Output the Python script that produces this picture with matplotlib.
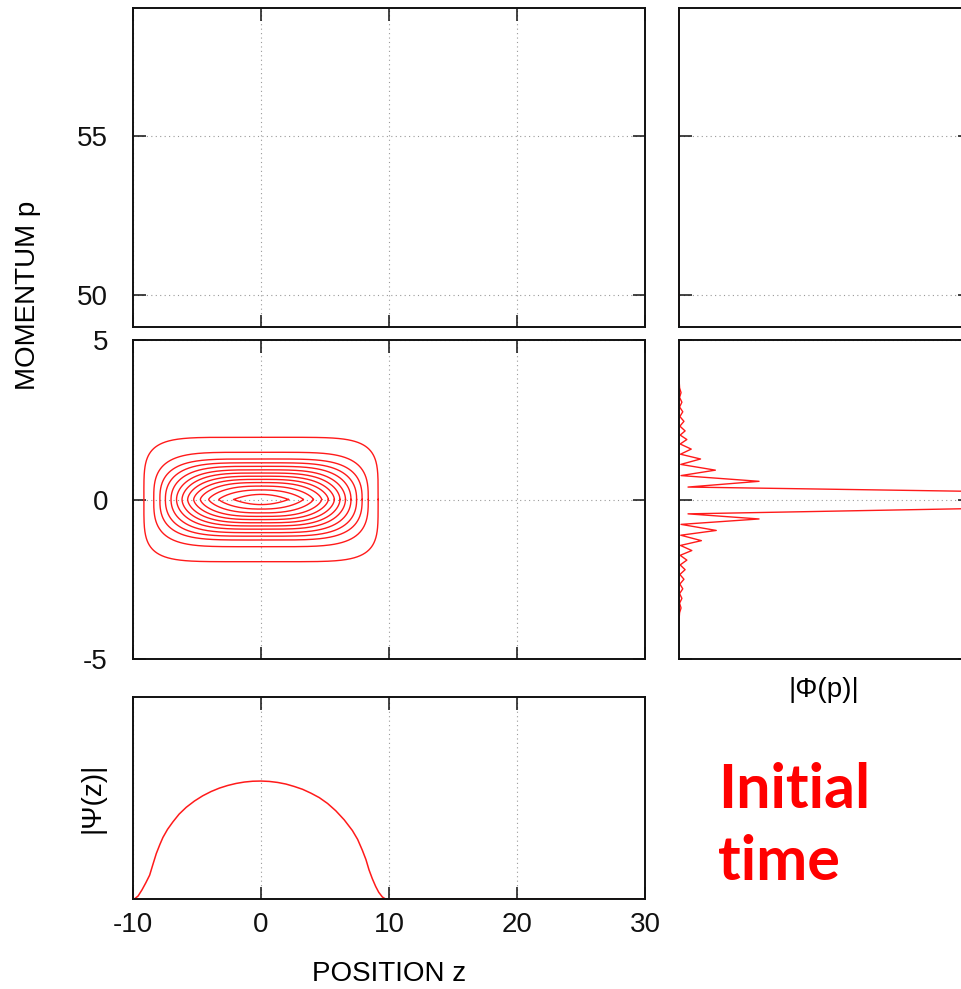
import numpy as np
import matplotlib
matplotlib.use("Agg")
import matplotlib.pyplot as plt

plt.rcParams['font.family'] = ['Liberation Sans', 'DejaVu Sans']
plt.rcParams['axes.unicode_minus'] = False

# |Psi(z)| along the position axis
z_psi = [-10.0, -9.85, -9.6, -9.3, -9.0, -8.7, -8.45, -8.18, -7.9, -7.66,
         -7.3, -6.88, -6.4, -5.84, -5.2, -4.55, -3.9, -3.25, -2.6, -1.95,
         -1.3, -0.65, 0.0, 0.65, 1.3, 1.95, 2.6, 3.25, 3.9, 4.55, 5.2, 5.84,
         6.5, 7.14, 7.55, 7.92, 8.2, 8.44, 8.7, 8.96, 9.2, 9.48, 9.7, 9.85,
         30.0]
psi_abs = [0.0, 0.002, 0.015, 0.045, 0.080, 0.118, 0.170, 0.225, 0.270,
           0.305, 0.345, 0.382, 0.420, 0.454, 0.485, 0.511, 0.532, 0.549,
           0.562, 0.572, 0.579, 0.583, 0.584, 0.582, 0.577, 0.569, 0.557,
           0.543, 0.524, 0.502, 0.473, 0.437, 0.392, 0.339, 0.295, 0.241,
           0.195, 0.144, 0.100, 0.062, 0.033, 0.010, 0.001, 0.0, 0.0]

# |Phi(p)| along the momentum axis (central peak runs past the frame)
p_mom = [3.8, 3.5, 3.35, 3.2, 3.05, 2.9, 2.75, 2.6, 2.45, 2.3, 2.15, 2.02,
         1.88, 1.74, 1.58, 1.42, 1.27, 1.10, 0.92, 0.75, 0.57, 0.39, 0.26,
         0.18, 0.0, -0.18, -0.29, -0.45, -0.61, -0.78, -0.97, -1.12, -1.29,
         -1.44, -1.60, -1.75, -1.90, -2.05, -2.20, -2.35, -2.50, -2.65,
         -2.80, -2.95, -3.10, -3.25, -3.40, -3.55, -3.8]
phi_abs = [0.0, 0.002, 0.007, 0.002, 0.010, 0.002, 0.013, 0.003, 0.017,
           0.003, 0.021, 0.004, 0.027, 0.004, 0.042, 0.005, 0.074, 0.006,
           0.125, 0.007, 0.275, 0.031, 0.973, 1.3, 1.6, 1.3, 0.973, 0.031,
           0.275, 0.007, 0.128, 0.006, 0.077, 0.005, 0.044, 0.004, 0.027,
           0.004, 0.021, 0.003, 0.017, 0.003, 0.013, 0.002, 0.010, 0.002,
           0.007, 0.002, 0.0]

# momentum window above the distribution: |Phi| vanishes there
p_high = [49.0, 59.0]
phi_high = [0.0, 0.0]

# phase-space contour lines: half extents and shape exponents, outer to inner
contour_z_half = [9.15, 8.38, 7.90, 7.47, 7.03, 6.60, 6.17, 5.73, 5.26, 4.74, 4.09, 3.30, 2.15]
contour_p_half = [1.95, 1.48, 1.27, 1.15, 1.04, 0.93, 0.83, 0.73, 0.63, 0.53, 0.42, 0.30, 0.16]
contour_z_exp = [6.0, 5.0, 4.6, 4.3, 4.0, 3.8, 3.6, 3.4, 3.2, 3.0, 2.7, 2.4, 2.0]
contour_p_exp = [4.5, 3.0, 2.6, 2.3, 2.1, 1.9, 1.8, 1.7, 1.6, 1.5, 1.35, 1.2, 1.0]

z_ticks = [-10, 0, 10, 20, 30]
p_ticks_low = [-5, 0, 5]
p_ticks_high = [50, 55]

RED = '#ff1a1a'
W, H = 962, 989
FS = 20


def box(x0, y0, x1, y1):
    return [x0 / W, 1 - y1 / H, (x1 - x0) / W, (y1 - y0) / H]


fig = plt.figure(figsize=(W / 100, H / 100), dpi=100)

ax_tl = fig.add_axes(box(133, 8, 645, 327))
ax_ml = fig.add_axes(box(133, 340, 645, 659))
ax_bl = fig.add_axes(box(133, 697, 645, 899))
ax_tr = fig.add_axes(box(679, 8, 970, 327))
ax_mr = fig.add_axes(box(679, 340, 970, 659))

grid_kw = dict(color='#9a9a9a', linestyle=(0, (1, 3)), linewidth=0.8)

for ax in (ax_tl, ax_ml, ax_bl, ax_tr, ax_mr):
    for s in ax.spines.values():
        s.set_linewidth(1.4)
        s.set_color('#111111')
    ax.tick_params(direction='in', length=9, width=1.1, top=True, right=True,
                   labelsize=FS, pad=18, colors='#111111')

# position-axis panels
for ax in (ax_tl, ax_ml, ax_bl):
    ax.set_xlim(-10, 30)
    ax.set_xticks(z_ticks)
    ax.grid(True, axis='x', **grid_kw)

ax_tl.set_ylim(49, 59)
ax_tl.set_yticks(p_ticks_high)
ax_tl.grid(True, axis='y', **grid_kw)
ax_tl.tick_params(labelbottom=False)

ax_ml.set_ylim(-5, 5)
ax_ml.set_yticks(p_ticks_low)
ax_ml.grid(True, axis='y', **grid_kw)
ax_ml.tick_params(labelbottom=False)

t = np.linspace(0, 2 * np.pi, 1000)
c, s = np.cos(t), np.sin(t)
for a, b, m, n in zip(contour_z_half, contour_p_half, contour_z_exp, contour_p_exp):
    zc = a * np.sign(c) * np.abs(c) ** (2 / m)
    pc = b * np.sign(s) * np.abs(s) ** (2 / n)
    ax_ml.plot(zc, pc, color=RED, lw=1.0)

ax_bl.set_ylim(0, 1)
ax_bl.set_yticks([])
ax_bl.tick_params(left=False, right=False, pad=9)
ax_bl.plot(z_psi, psi_abs, color=RED, lw=1.1)
ax_bl.set_ylabel('|\u03a8(z)|', fontsize=FS, labelpad=20)
ax_bl.set_xlabel('POSITION z', fontsize=FS, labelpad=17)

# momentum-distribution panels
for ax in (ax_tr, ax_mr):
    ax.set_xlim(0, 1)
    ax.set_xticks([])
    ax.tick_params(labelleft=False, bottom=False, top=False)
    ax.grid(True, axis='y', **grid_kw)

ax_tr.set_ylim(49, 59)
ax_tr.set_yticks(p_ticks_high)
ax_tr.plot(phi_high, p_high, color=RED, lw=1.2, clip_on=False, alpha=0.6)

ax_mr.set_ylim(-5, 5)
ax_mr.set_yticks(p_ticks_low)
ax_mr.plot(phi_abs, p_mom, color=RED, lw=1.0)
ax_mr.plot([0, 0], [-5, 5], color=RED, lw=1.2, alpha=0.5)

fig.text(824 / W, 1 - 690 / H, '|\u03a6(p)|', fontsize=FS, ha='center', va='center')
fig.text(28 / W, 1 - 295 / H, 'MOMENTUM p', fontsize=FS, rotation=90,
         ha='center', va='center')

fig.text(718 / W, 1 - 808 / H, 'Initial', fontsize=44, color='#ff0000',
         fontweight='bold', family=['Lato', 'DejaVu Sans'], ha='left', va='baseline')
fig.text(718 / W, 1 - 880 / H, 'time', fontsize=44, color='#ff0000',
         fontweight='bold', family=['Lato', 'DejaVu Sans'], ha='left', va='baseline')

fig.savefig('out.png', dpi=100)
